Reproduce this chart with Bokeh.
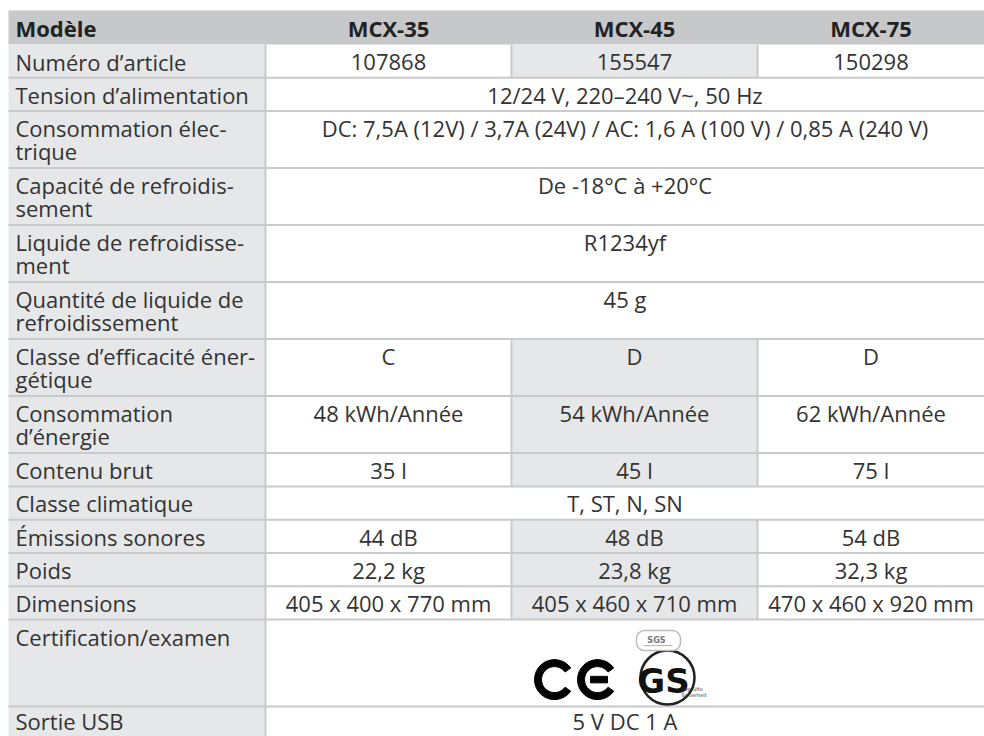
from bokeh.plotting import figure
from bokeh.models import Range1d, ColumnDataSource
from bokeh.core.properties import value
from bokeh.embed import file_html
from bokeh.resources import INLINE
import math

# ---------------- data ----------------
header_label = "Modèle"
models = ["MCX-35", "MCX-45", "MCX-75"]

row_labels = [
    ["Numéro d’article"],
    ["Tension d’alimentation"],
    ["Consommation élec-", "trique"],
    ["Capacité de refroidis-", "sement"],
    ["Liquide de refroidisse-", "ment"],
    ["Quantité de liquide de", "refroidissement"],
    ["Classe d’efficacité éner-", "gétique"],
    ["Consommation", "d’énergie"],
    ["Contenu brut"],
    ["Classe climatique"],
    ["Émissions sonores"],
    ["Poids"],
    ["Dimensions"],
    ["Certification/examen"],
    ["Sortie USB"],
]
article_numbers = ["107868", "155547", "150298"]
energy_class = ["C", "D", "D"]
energy_use = ["48 kWh/Année", "54 kWh/Année", "62 kWh/Année"]
gross_volume = ["35 l", "45 l", "75 l"]
noise = ["44 dB", "48 dB", "54 dB"]
weight = ["22,2 kg", "23,8 kg", "32,3 kg"]
dimensions = ["405 x 400 x 770 mm", "405 x 460 x 710 mm", "470 x 460 x 920 mm"]
supply_voltage = "12/24 V, 220–240 V~, 50 Hz"
power_use = "DC: 7,5A (12V) / 3,7A (24V) / AC: 1,6 A (100 V) / 0,85 A (240 V)"
cooling_range = "De -18°C à +20°C"
refrigerant = "R1234yf"
refrigerant_qty = "45 g"
climate_class = "T, ST, N, SN"
usb_output = "5 V DC 1 A"

row_values = [
    article_numbers, supply_voltage, power_use, cooling_range, refrigerant,
    refrigerant_qty, energy_class, energy_use, gross_volume, climate_class,
    noise, weight, dimensions, None, usb_output,
]

# ---------------- layout / style ----------------
W, H = 984, 736
FONT = "Open Sans"
FS = "22px"
TXT = "#333333"
HEAD_BG = "#c7c8ca"
LIGHT_BG = "#e6e7e8"
LINE = "#c9cacc"

col_edges = [8, 265, 511, 757, 984]
top = 10
head_h = 34
one_line_h = 33.3
extra_line_h = 23.7
cert_h = 87
first_line_off = 17
line_gap = 22.5

heights = []
for lab, val in zip(row_labels, row_values):
    if val is None:
        heights.append(cert_h)
    else:
        heights.append(one_line_h + extra_line_h * (len(lab) - 1))
row_tops = []
y = top + head_h
for h in heights:
    row_tops.append(y)
    y += h
bottom = y

p = figure(width=W, height=H, x_range=Range1d(0, W), y_range=Range1d(H, 0),
           output_backend="svg", toolbar_location=None, min_border=0,
           x_axis_location=None, y_axis_location=None)
p.grid.visible = False
p.outline_line_color = None
p.background_fill_color = "white"
p.border_fill_color = "white"

# backgrounds
bg = dict(left=[], right=[], top=[], bottom=[], color=[])
def add_bg(l, r, t, b, c):
    bg["left"].append(l); bg["right"].append(r); bg["top"].append(t)
    bg["bottom"].append(b); bg["color"].append(c)

add_bg(col_edges[0], col_edges[-1], top, top + head_h, HEAD_BG)
add_bg(col_edges[0], col_edges[1], top + head_h, bottom, LIGHT_BG)
for rt, h, val in zip(row_tops, heights, row_values):
    if isinstance(val, list):
        add_bg(col_edges[2], col_edges[3], rt, rt + h, LIGHT_BG)
p.quad(left="left", right="right", top="top", bottom="bottom", fill_color="color",
       line_color=None, source=ColumnDataSource(bg))

# grid lines
seg = dict(x0=[], y0=[], x1=[], y1=[])
def add_seg(a, b, c, d):
    seg["x0"].append(a); seg["y0"].append(b); seg["x1"].append(c); seg["y1"].append(d)

for rt in row_tops[1:] + [bottom]:
    add_seg(col_edges[0], rt, col_edges[-1], rt)
add_seg(col_edges[1], top + head_h, col_edges[1], bottom)
for rt, h, val in zip(row_tops, heights, row_values):
    if isinstance(val, list):
        add_seg(col_edges[2], rt, col_edges[2], rt + h)
        add_seg(col_edges[3], rt, col_edges[3], rt + h)
p.segment(x0="x0", y0="y0", x1="x1", y1="y1", line_color=LINE, line_width=2,
          source=ColumnDataSource(seg))

# header texts
hx = [col_edges[0] + 7] + [(col_edges[i] + col_edges[i + 1]) / 2 for i in range(1, 4)]
hy = [top + head_h / 2 + 0.5] * 4
halign = ["left", "center", "center", "center"]
p.text(x=hx, y=hy, text=[header_label] + models, text_align=halign,
       text_baseline="middle", text_font=value(FONT), text_font_size=FS,
       text_font_style="bold", text_color="#222222")

# body texts
tx, ty, tt, ta = [], [], [], []
n_rows = len(row_labels)
for k, (rt, lab, val) in enumerate(zip(row_tops, row_labels, row_values)):
    off = first_line_off - (3 if k == n_rows - 1 else 0)
    for i, line in enumerate(lab):
        tx.append(col_edges[0] + 7); ty.append(rt + off + i * line_gap)
        tt.append(line); ta.append("left")
    if val is None:
        continue
    if isinstance(val, list):
        for j, v in enumerate(val):
            tx.append((col_edges[j + 1] + col_edges[j + 2]) / 2)
            ty.append(rt + off); tt.append(v); ta.append("center")
    else:
        tx.append((col_edges[1] + col_edges[-1]) / 2)
        ty.append(rt + off); tt.append(val); ta.append("center")
p.text(x="x", y="y", text="t", text_align="a", text_baseline="middle",
       text_font=value(FONT), text_font_size=FS, text_color=TXT,
       source=ColumnDataSource(dict(x=tx, y=ty, t=tt, a=ta)))

# certification logos
cert_top = row_tops[row_values.index(None)]
cy = cert_top + 60
th = 0.62
# CE mark
for cx in (554, 597):
    p.annular_wedge(x=cx, y=cy, inner_radius=13, outer_radius=20,
                    start_angle=th, end_angle=2 * math.pi - th, color="black")
p.rect(x=597 + 1.5, y=cy, width=17, height=6.5, color="black")
# GS mark
gx, gy = 667, cert_top + 58
p.circle(x=[gx], y=[gy], radius=27, fill_color="white",
         line_color="#222222", line_width=2.5)
p.rect(x=658, y=cert_top + 21, width=44, height=20, fill_color="white",
       line_color="#bbbbbb", line_width=1.5, border_radius=8)
p.text(x=[656], y=[cert_top + 20], text=["SGS"], text_align="center",
       text_baseline="middle", text_font=value("DejaVu Sans Condensed"),
       text_font_size="9px", text_font_style="bold", text_color="#777777")
p.segment(x0=[643], y0=[cert_top + 26], x1=[672], y1=[cert_top + 26],
          line_color="#e8a070", line_width=1)
p.text(x=[663], y=[gy + 3], text=["GS"], text_align="center",
       text_baseline="middle", text_font=value("DejaVu Sans"),
       text_font_size="34px", text_font_style="bold", text_color="#111111")
p.text(x=[681, 681], y=[gy + 11, gy + 17],
       text=["geprüfte", "Sicherheit"], text_align="left", text_baseline="middle",
       text_font=value("DejaVu Sans"), text_font_size="5px", text_color="#333333")

open("out.html", "w").write(file_html(p, INLINE))
